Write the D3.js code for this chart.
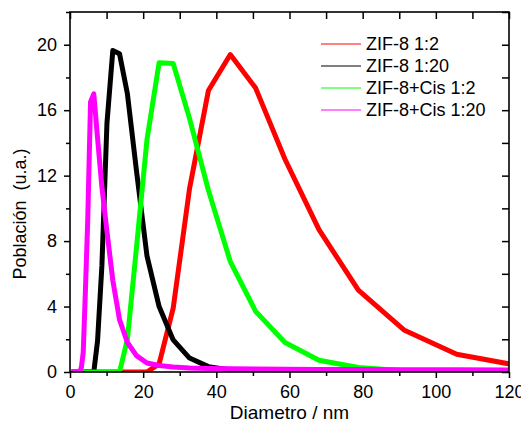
<!DOCTYPE html>
<html>
<head>
<meta charset="utf-8">
<script src="https://cdn.jsdelivr.net/npm/d3@7"></script>
<style>
  body { margin: 0; background: #fff; }
  text { font-family: "Liberation Sans", Arial, sans-serif; }
</style>
</head>
<body>
<div id="main"></div>
<script>
// size bins (nm)
var diametro = [0.4, 0.4632, 0.5365, 0.6213, 0.7195, 0.8332, 0.9649, 1.117, 1.294, 1.499,
    1.736, 2.010, 2.328, 2.696, 3.122, 3.615, 4.187, 4.849, 5.615, 6.503,
    7.531, 8.721, 10.10, 11.70, 13.54, 15.69, 18.17, 21.04, 24.36, 28.21,
    32.67, 37.84, 43.82, 50.75, 58.77, 68.06, 78.82, 91.28, 105.7, 122.4];

var zif8_1_2 = [0, 0, 0, 0, 0, 0, 0, 0, 0, 0,
    0, 0, 0, 0, 0, 0, 0, 0, 0, 0,
    0, 0, 0, 0, 0, 0, 0, 0, 0.5, 3.9,
    11.2, 17.2, 19.4, 17.35, 13.0, 8.7, 5.0, 2.57, 1.08, 0.4];

var zif8_1_20 = [0, 0, 0, 0, 0, 0, 0, 0, 0, 0,
    0, 0, 0, 0, 0, 0, 0, 0, 0, 0,
    1.9, 6.5, 15.2, 19.65, 19.45, 17.0, 12.3, 7.1, 4.0, 1.96,
    0.85, 0.33, 0.12, 0.05, 0.02, 0.01, 0, 0, 0, 0];

var zif8cis_1_2 = [0, 0, 0, 0, 0, 0, 0, 0, 0, 0,
    0, 0, 0, 0, 0, 0, 0, 0, 0, 0,
    0, 0, 0, 0, 0, 2.0, 7.6, 14.2, 18.9, 18.85,
    15.5, 11.1, 6.75, 3.7, 1.8, 0.72, 0.28, 0.08, 0.02, 0];

var zif8cis_1_20 = [0, 0, 0, 0, 0, 0, 0, 0, 0, 0,
    0, 0, 0, 0, 0.3, 1.2, 4.8, 9.3, 16.5, 17.0,
    14.3, 11.3, 8.6, 5.6, 3.2, 1.8, 1.0, 0.55, 0.4, 0.3,
    0.25, 0.22, 0.2, 0.18, 0.17, 0.16, 0.15, 0.14, 0.13, 0.12];

var seriesNames = ["ZIF-8 1:2", "ZIF-8 1:20", "ZIF-8+Cis 1:2", "ZIF-8+Cis 1:20"];
var seriesColors = ["#ff0000", "#000000", "#00ff00", "#ff00ff"];
var seriesValues = [zif8_1_2, zif8_1_20, zif8cis_1_2, zif8cis_1_20];

var xMajor = [0, 20, 40, 60, 80, 100, 120];
var xMinor = [10, 30, 50, 70, 90, 110];
var yMajor = [0, 4, 8, 12, 16, 20];
var yMinor = [2, 6, 10, 14, 18, 22];

var margin = {top: 12, right: 12, bottom: 60, left: 70},
    width = 521 - margin.left - margin.right,
    height = 432 - margin.top - margin.bottom;

var svg = d3.select("#main").append("svg")
    .attr("width", 521)
    .attr("height", 432)
    .append("g")
    .attr("transform", "translate(" + margin.left + "," + margin.top + ")");

var x = d3.scaleLinear().domain([0, 120]).range([0, width]);
var y = d3.scaleLinear().domain([0, 22]).range([height, 0]);

svg.append("clipPath").attr("id", "clip")
  .append("rect").attr("width", width).attr("height", height);

var line = d3.line()
    .x(function(d) { return x(d[0]); })
    .y(function(d) { return y(d[1]); });

var plot = svg.append("g").attr("clip-path", "url(#clip)");
seriesValues.forEach(function(vals, i) {
    var pts = diametro.map(function(dv, j) { return [dv, vals[j]]; });
    plot.append("path")
        .datum(pts)
        .attr("fill", "none")
        .attr("stroke", seriesColors[i])
        .attr("stroke-width", 5)
        .attr("stroke-linejoin", "round")
        .attr("d", line);
});

function styleAxis(g) {
    g.select(".domain").remove();
    g.selectAll(".tick line").attr("stroke", "#000").attr("stroke-width", 1.5);
    g.selectAll("text").attr("font-size", 18).attr("fill", "#000");
}

// bottom
svg.append("g").attr("transform", "translate(0," + height + ")")
    .call(d3.axisBottom(x).tickValues(xMajor).tickSize(6).tickPadding(7).tickFormat(d3.format("d")))
    .call(styleAxis);
svg.append("g").attr("transform", "translate(0," + height + ")")
    .call(d3.axisBottom(x).tickValues(xMinor).tickSize(4).tickFormat(""))
    .call(styleAxis);
// left
svg.append("g")
    .call(d3.axisLeft(y).tickValues(yMajor).tickSize(6).tickPadding(7).tickFormat(d3.format("d")))
    .call(styleAxis);
svg.append("g")
    .call(d3.axisLeft(y).tickValues(yMinor).tickSize(4).tickFormat(""))
    .call(styleAxis);
// top and right, ticks pointing inward
svg.append("g")
    .call(d3.axisTop(x).tickValues(xMajor.concat(xMinor)).tickSize(-7).tickFormat(""))
    .call(styleAxis);
svg.append("g").attr("transform", "translate(" + width + ",0)")
    .call(d3.axisRight(y).tickValues(yMajor.concat(yMinor)).tickSize(-7).tickFormat(""))
    .call(styleAxis);

// frame
svg.append("rect")
    .attr("width", width).attr("height", height)
    .attr("fill", "none").attr("stroke", "#000").attr("stroke-width", 1.6);

// axis titles
svg.append("text")
    .attr("x", width / 2).attr("y", height + 47)
    .attr("text-anchor", "middle").attr("font-size", 19)
    .text("Diametro / nm");

svg.append("text")
    .attr("transform", "translate(-44," + (height / 2 + 22) + ") rotate(-90)")
    .attr("text-anchor", "middle").attr("font-size", 18)
    .attr("xml:space", "preserve")
    .style("white-space", "pre")
    .text("Población  (u.a.)");

// legend
var legend = svg.append("g").attr("transform", "translate(" + (321 - margin.left) + "," + (44 - margin.top) + ")");
seriesNames.forEach(function(name, i) {
    var row = legend.append("g").attr("transform", "translate(0," + (i * 22) + ")");
    row.append("line")
        .attr("x1", 0).attr("x2", 40)
        .attr("stroke", seriesColors[i]).attr("stroke-width", 1);
    row.append("text")
        .attr("x", 45).attr("dy", "0.36em")
        .attr("font-size", 18)
        .text(name);
});
</script>
</body>
</html>
